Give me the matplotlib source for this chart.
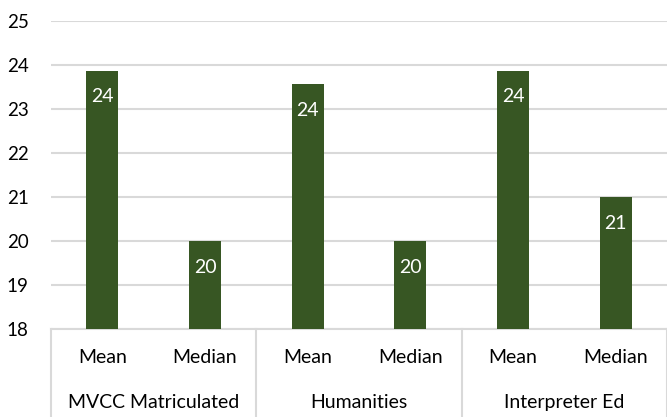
import matplotlib.pyplot as plt
import matplotlib.transforms as mtransforms
import numpy as np

plt.rcParams['font.family'] = ['Lato', 'DejaVu Sans']

# chart data
groups = ['MVCC Matriculated', 'Humanities', 'Interpreter Ed']
stats = ['Mean', 'Median']
values = [23.87, 20.0, 23.57, 20.0, 23.87, 21.0]

bar_color = '#375623'
grid_color = '#D9D9D9'

fig = plt.figure(figsize=(6.67, 4.17), dpi=100)
ax = fig.add_axes([0.0765, 0.211, 0.9235, 0.739])

x = np.arange(len(values))
bars = ax.bar(x, np.array(values) - 18, bottom=18, width=0.31, color=bar_color, zorder=3)

ax.set_ylim(18, 25)
ax.set_xlim(-0.5, len(values) - 0.5)
ax.set_yticks(range(18, 26))
ax.yaxis.grid(True, color=grid_color, linewidth=1.5, zorder=0)
ax.tick_params(axis='y', length=0, labelsize=13.5, pad=16)
ax.tick_params(axis='x', length=0, labelbottom=False)
for s in ['top', 'right', 'left']:
    ax.spines[s].set_visible(False)
ax.spines['bottom'].set_color(grid_color)
ax.spines['bottom'].set_linewidth(1.5)

# data labels inside the bar ends
for xi, v in zip(x, values):
    ax.annotate(f'{v:.0f}', (xi, v), xytext=(0, -19), textcoords='offset points',
                ha='center', va='center', color='white', fontsize=14, zorder=4)

# multi-level category axis
trans = mtransforms.blended_transform_factory(ax.transData, ax.transAxes)
for i, v in enumerate(values):
    ax.text(i, -0.094, stats[i % 2], transform=trans, ha='center', va='center', fontsize=14)
for g, name in enumerate(groups):
    ax.text(2 * g + 0.5, -0.240, name, transform=trans, ha='center', va='center', fontsize=14)
for g in range(len(groups) + 1):
    xs = 2 * g - 0.5
    ax.plot([xs, xs], [0, -0.3], transform=trans, color=grid_color, linewidth=1.5, clip_on=False)

fig.savefig('out.png', dpi=100)
